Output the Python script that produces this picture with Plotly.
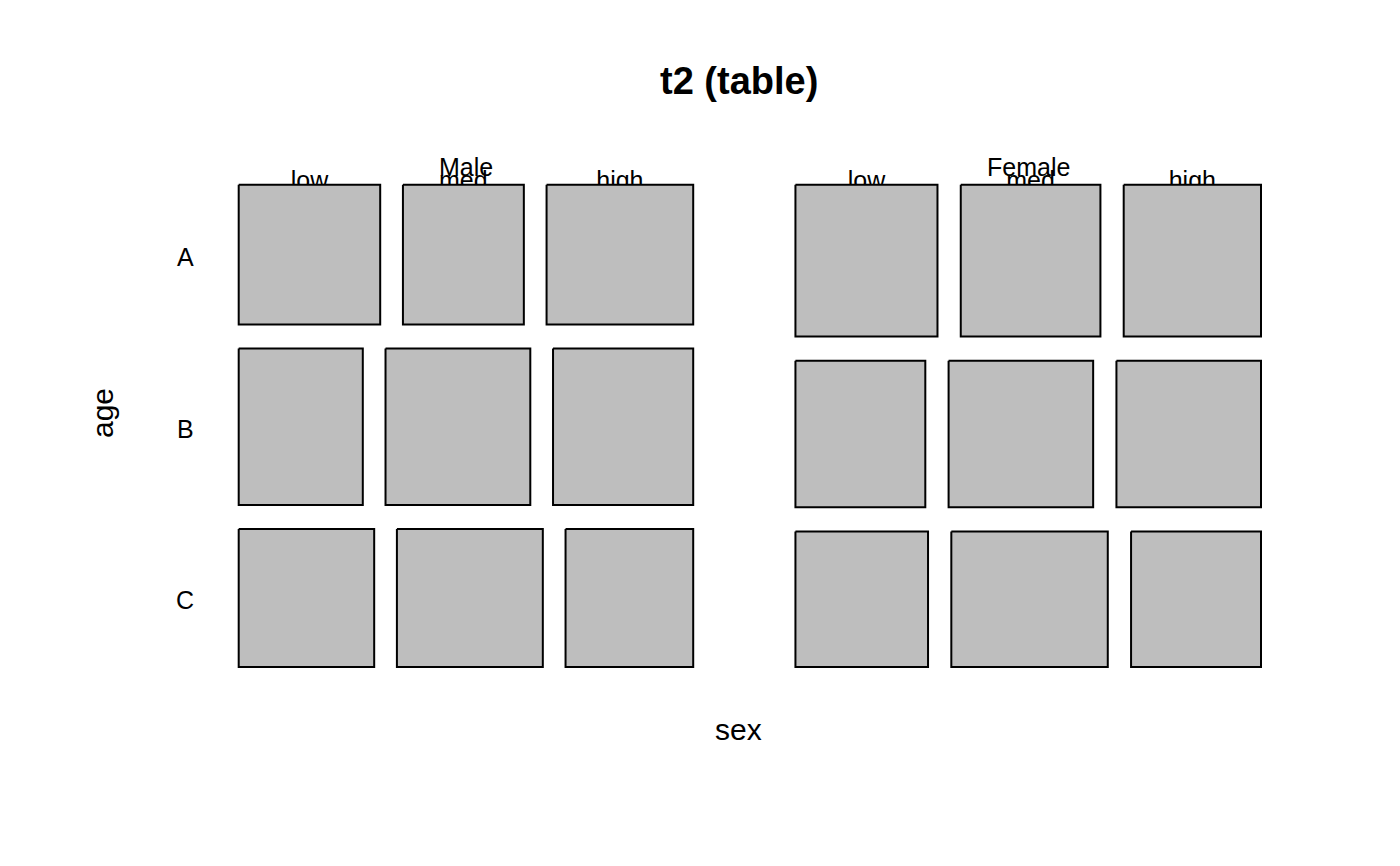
import plotly.graph_objects as go

# ---- data (3-way table: sex x age x level) ----
sex_levels = ["Male", "Female"]
age_levels = ["A", "B", "C"]
level3 = ["low", "med", "high"]
counts_male = [[55, 47, 57],   # A
               [54, 63, 61],   # B
               [52, 56, 49]]   # C
counts_female = [[60, 59, 58],
                 [53, 59, 59],
                 [50, 59, 49]]
title_text = "t2 (table)"
xlab = "sex"
ylab = "age"

counts = [counts_male, counts_female]

# ---- layout constants (pixel space of the page) ----
X1, X2, Y1, Y2 = 238.7, 1261.0, 184.7, 667.0
OFF = 0.10
FILL = "#BEBEBE"
FONT = "Liberation Sans, Arial, sans-serif"


def split(lo, hi, vals, off):
    tot = float(sum(vals))
    n = len(vals)
    span = hi - lo
    white = off * span / max(1, n - 1)
    out = []
    pos = lo
    for v in vals:
        w = (1 - off) * (v / tot) * span
        out.append((pos, pos + w))
        pos += w + white
    return out


sex_tot = [sum(sum(r) for r in c) for c in counts]
sex_spans = split(X1, X2, sex_tot, OFF)

rects = []
top_labels = []   # (x, text) for level3 labels on top row
sex_label_pos = []
age_label_pos = []
for si, (xl, xr) in enumerate(sex_spans):
    sex_label_pos.append(((xl + xr) / 2, sex_levels[si]))
    age_tot = [sum(r) for r in counts[si]]
    age_spans = split(Y1, Y2, age_tot, OFF)
    for ai, (yt, yb) in enumerate(age_spans):
        if si == 0:
            age_label_pos.append(((yt + yb) / 2, age_levels[ai]))
        cell_spans = split(xl, xr, counts[si][ai], OFF)
        for li, (cl, cr) in enumerate(cell_spans):
            rects.append((cl, cr, yt, yb))
            if ai == 0:
                top_labels.append(((cl + cr) / 2, level3[li]))

fig = go.Figure()

# level labels first so rectangles overlap them (as in reference)
fig.add_trace(go.Scatter(
    x=[p[0] for p in top_labels], y=[182.5] * len(top_labels),
    text=[p[1] for p in top_labels], mode="text",
    textposition="middle center",
    textfont=dict(family=FONT, size=25, color="black"),
    hoverinfo="skip"))

for (cl, cr, yt, yb) in rects:
    fig.add_trace(go.Scatter(
        x=[cl, cr, cr, cl, cl], y=[yt, yt, yb, yb, yt],
        mode="lines", fill="toself", fillcolor=FILL,
        line=dict(color="black", width=2), hoverinfo="skip"))

annotations = []
for (xc, t) in sex_label_pos:
    annotations.append(dict(x=xc, y=167, text=t, showarrow=False,
                            xref="x", yref="y", xanchor="center", yanchor="middle",
                            font=dict(family=FONT, size=25, color="black")))
for (yc, t) in age_label_pos:
    annotations.append(dict(x=185, y=yc + 2, text=t, showarrow=False,
                            xref="x", yref="y", xanchor="center", yanchor="middle",
                            font=dict(family=FONT, size=25, color="black")))
annotations.append(dict(x=738.5, y=81, text="<b>" + title_text + "</b>", showarrow=False,
                        xref="x", yref="y", xanchor="center", yanchor="middle",
                        font=dict(family=FONT, size=38, color="black")))
annotations.append(dict(x=738, y=729, text=xlab, showarrow=False,
                        xref="x", yref="y", xanchor="center", yanchor="middle",
                        font=dict(family=FONT, size=30, color="black")))
annotations.append(dict(x=102, y=413, text=ylab, showarrow=False, textangle=-90,
                        xref="x", yref="y", xanchor="center", yanchor="middle",
                        font=dict(family=FONT, size=30, color="black")))

fig.update_layout(
    width=1400, height=866,
    margin=dict(l=0, r=0, t=0, b=0),
    paper_bgcolor="white", plot_bgcolor="white",
    showlegend=False,
    xaxis=dict(range=[0, 1400], visible=False, fixedrange=True),
    yaxis=dict(range=[866, 0], visible=False, fixedrange=True),
    annotations=annotations,
    hovermode=False,
)

fig.write_html("out.html")
